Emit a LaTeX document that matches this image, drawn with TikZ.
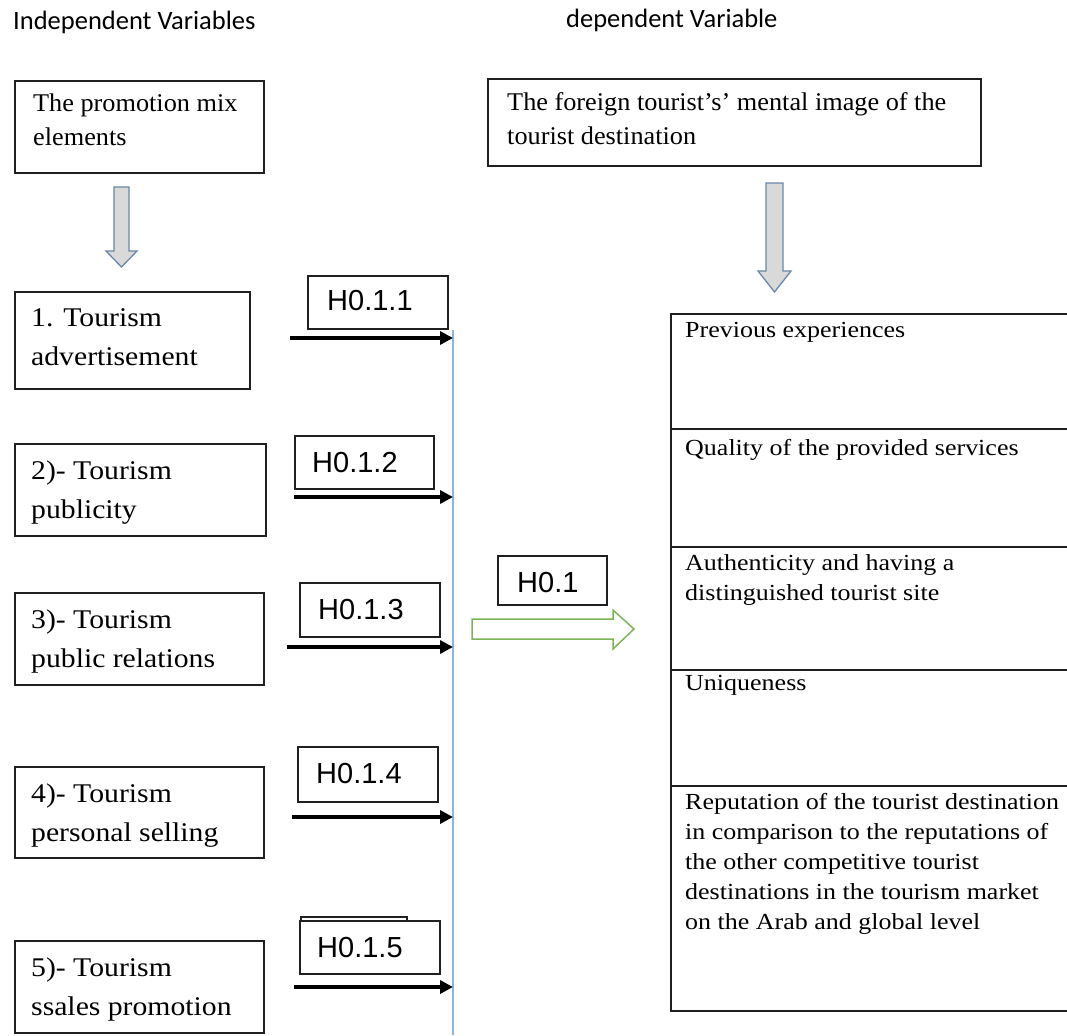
\documentclass[tikz,border=0pt]{standalone}
\usepackage{fontspec}
\setmainfont{Liberation Serif}
\newfontfamily\tnrA[FakeStretch=1.1]{Liberation Serif}
\newfontfamily\tnrB[FakeStretch=1.13]{Liberation Serif}
\newfontfamily\tnrC[FakeStretch=1.03]{Liberation Serif}
\newfontfamily\arlfont{Liberation Sans}
\newfontfamily\calfont{Carlito}
\usetikzlibrary{arrows.meta}
\definecolor{boxline}{HTML}{202020}
\definecolor{bluel}{HTML}{8FB4E3}
\definecolor{grayfill}{HTML}{D9D9D9}
\definecolor{grayedge}{HTML}{6A88A8}
\definecolor{greenl}{HTML}{7CB45A}
\begin{document}
\begin{tikzpicture}[x=1pt,y=-1pt,
  box/.style={draw=boxline, line width=1.8pt, fill=white, inner sep=0pt, anchor=north west},
  hbox/.style={draw=boxline, line width=1.5pt, fill=white, inner sep=0pt, anchor=north west},
  hdr/.style={anchor=base west, inner sep=0pt, font=\calfont\fontsize{26.5}{30}\selectfont},
  toptxt/.style={anchor=base west, inner sep=0pt, align=left, font=\tnrC\fontsize{25.5}{34.5}\selectfont},
  lefttxt/.style={anchor=base west, inner sep=0pt, align=left, font=\tnrA\fontsize{27}{39}\selectfont},
  celltxt/.style={anchor=base west, inner sep=0pt, align=left, font=\tnrB\fontsize{23}{29.8}\selectfont},
  htxt/.style={anchor=base west, inner sep=0pt, font=\arlfont\fontsize{29}{34}\selectfont},
  harrow/.style={draw=black, line width=3.6pt, -{Triangle[length=13pt,width=13pt]}},
  grayarrow/.style={draw=grayedge, fill=grayfill, line width=1.3pt, line join=miter},
  greenarrow/.style={draw=greenl, fill=white, line width=1.5pt}
]
\useasboundingbox (0,0) rectangle (1067,1035);

% headers
\node[hdr] (hind) at (13,30) {Independent Variables};
\node[hdr] (hdep) at (566,28) {dependent Variable};

% top boxes (multi-line text nodes are anchored at the last baseline)
\node[box, minimum width=249pt, minimum height=92pt] (pm) at (14,80) {};
\node[toptxt] (pmt) at (33,146) {The promotion mix\\elements};
\node[box, minimum width=493pt, minimum height=87pt] (fi) at (487,78) {};
\node[toptxt] (fit) at (507,145) {The foreign tourist’s’ mental image of the\\tourist destination};

% gray block arrows
\draw[grayarrow] (114,187) -- (129,187) -- (129,251) -- (137,251) -- (121.5,267) -- (106,251) -- (114,251) -- cycle;
\draw[grayarrow] (766,183) -- (783,183) -- (783,271) -- (791,271) -- (774.5,292) -- (758,271) -- (766,271) -- cycle;

% left boxes
\node[box, minimum width=235pt, minimum height=97pt] (e1) at (14,291) {};
\node[lefttxt] (e1t) at (31,365) {1. Tourism\\advertisement};
\node[box, minimum width=251pt, minimum height=92pt] (e2) at (14,443) {};
\node[lefttxt] (e2t) at (31,518) {2)- Tourism\\publicity};
\node[box, minimum width=249pt, minimum height=92pt] (e3) at (14,592) {};
\node[lefttxt] (e3t) at (31,667) {3)- Tourism\\public relations};
\node[box, minimum width=249pt, minimum height=91pt] (e4) at (14,766) {};
\node[lefttxt] (e4t) at (31,841) {4)- Tourism\\personal selling};
\node[box, minimum width=249pt, minimum height=92pt] (e5) at (14,940) {};
\node[lefttxt] (e5t) at (31,1015) {5)- Tourism\\ssales promotion};

% blue vertical line
\coordinate (bltop) at (453,330);
\coordinate (blbot) at (453,1035);
\draw[bluel, line width=1.6pt] (bltop) -- (blbot);

% hypothesis boxes
\node[hbox, minimum width=140pt, minimum height=53pt] (h1) at (307,275) {};
\node[htxt] (h1t) at (327,310) {H0.1.1};
\node[hbox, minimum width=139pt, minimum height=53pt] (h2) at (294,435) {};
\node[htxt] (h2t) at (312,472) {H0.1.2};
\node[hbox, minimum width=140pt, minimum height=54pt] (h3) at (299,582) {};
\node[htxt] (h3t) at (318,619) {H0.1.3};
\node[hbox, minimum width=140pt, minimum height=55pt] (h4) at (297,746) {};
\node[htxt] (h4t) at (316,783) {H0.1.4};
\node[hbox, minimum width=106pt, minimum height=30pt] (h5b) at (300,916) {};
\node[hbox, minimum width=140pt, minimum height=53pt] (h5) at (299,920) {};
\node[htxt] (h5t) at (317,957) {H0.1.5};
\node[hbox, minimum width=109pt, minimum height=49pt] (h0) at (497,555) {};
\node[htxt] (h0t) at (517,592) {H0.1};

% black arrows
\coordinate (s1) at (290,338);
\coordinate (s2) at (294,497);
\coordinate (s3) at (287,647);
\coordinate (s4) at (292,817);
\coordinate (s5) at (294,987);
\draw[harrow] (s1) -- (s1 -| bltop);
\draw[harrow] (s2) -- (s2 -| bltop);
\draw[harrow] (s3) -- (s3 -| bltop);
\draw[harrow] (s4) -- (s4 -| bltop);
\draw[harrow] (s5) -- (s5 -| bltop);

% green block arrow
\draw[greenarrow] (472,619) -- (613,619) -- (613,610) -- (634,629) -- (613,649) -- (613,639) -- (472,639) -- cycle;

% right table
\draw[draw=boxline, line width=1.8pt] (1067,314) -- (671,314) -- (671,1011) -- (1067,1011);
\foreach \yy in {429,547,670,786}
  \draw[draw=boxline, line width=1.8pt] (671,\yy) -- (1067,\yy);
\node[celltxt] (c1) at (685,337) {Previous experiences};
\node[celltxt] (c2) at (685,455) {Quality of the provided services};
\node[celltxt] (c3) at (685,600) {Authenticity and having a\\distinguished tourist site};
\node[celltxt] (c4) at (685,690) {Uniqueness};
\node[celltxt] (c5) at (685,929) {Reputation of the tourist destination\\in comparison to the reputations of\\the other competitive tourist\\destinations in the tourism market\\on the Arab and global level};
\end{tikzpicture}
\end{document}
